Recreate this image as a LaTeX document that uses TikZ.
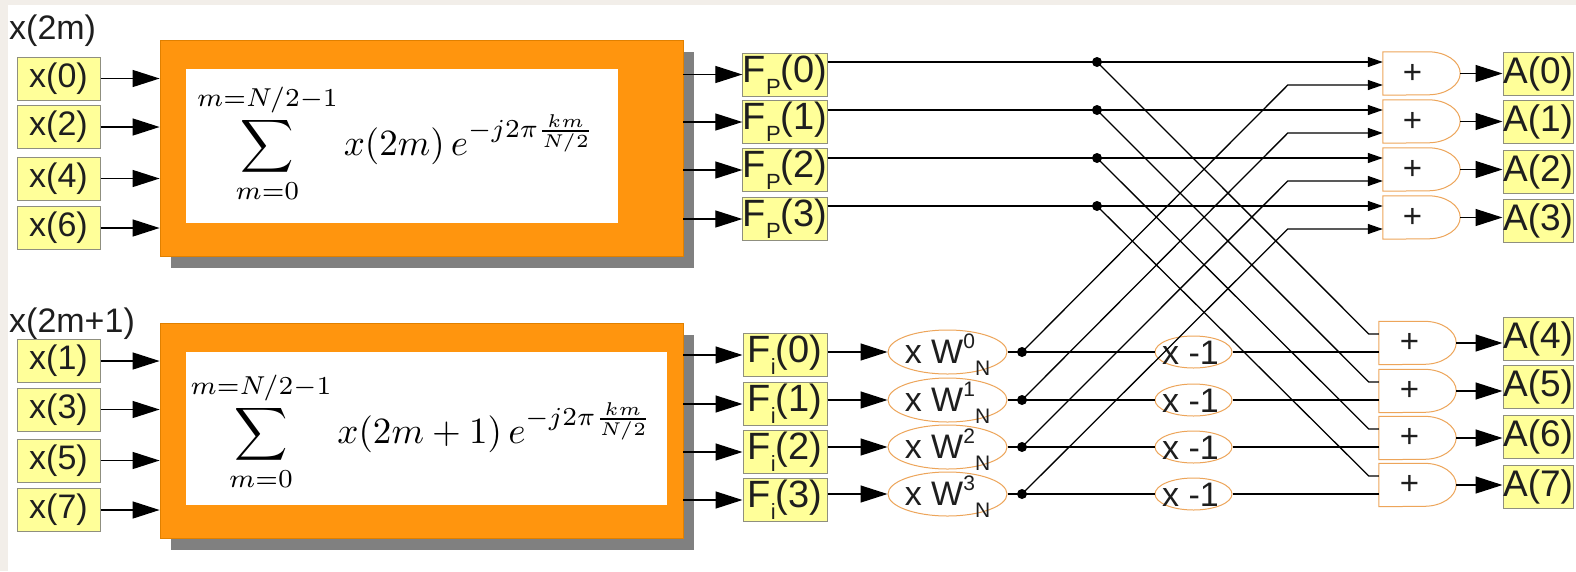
\documentclass[tikz,border=0pt]{standalone}
\usepackage{graphicx}
\usepackage[no-math]{fontspec}
\setmainfont{Liberation Sans}
\usetikzlibrary{arrows.meta,shapes.geometric,calc}
\definecolor{bgbeige}{HTML}{F2EEE9}
\definecolor{boxfill}{HTML}{FFFF99}
\definecolor{boxline}{HTML}{8F8F7F}
\definecolor{orng}{HTML}{FF950E}
\definecolor{orngline}{HTML}{E08000}
\definecolor{shadowgray}{HTML}{808080}
\definecolor{ellline}{HTML}{EDA55A}
\definecolor{txt}{HTML}{1E1E1E}
\newcommand{\fs}[1]{\fontsize{#1}{#1}\selectfont}
\begin{document}
\begin{tikzpicture}[x=1pt,y=-1pt,
  conn/.style={line width=1.3pt, draw=black},
  bigarrow/.style={conn, -{Triangle[length=27pt,width=17pt]}},
  smallarrow/.style={conn, -{Triangle[length=15pt,width=10pt]}},
  ybox/.style={draw=boxline, fill=boxfill, line width=1pt, inner sep=0pt, minimum height=43pt, text=txt},
  xin/.style={ybox, minimum width=83pt, font={\fs{34}}},
  fout/.style={ybox, minimum width=84pt, font={\fs{38}}},
  aout/.style={ybox, minimum width=70pt, font={\fs{37}}},
  orangebox/.style={fill=orng, draw=orngline, line width=0.8pt, minimum width=523pt, minimum height=216pt, inner sep=0pt},
  shadowbox/.style={fill=shadowgray, minimum width=523pt, minimum height=216pt, inner sep=0pt},
  innerbox/.style={fill=white, inner sep=0pt, minimum height=154pt},
  formula/.style={inner sep=0pt, font={\fontsize{10}{12}\selectfont}},
  wnode/.style={ellipse, draw=ellline, line width=1pt, minimum width=119pt, minimum height=44pt, inner sep=0pt},
  mnode/.style={ellipse, draw=ellline, line width=1pt, minimum width=77pt, minimum height=32pt, inner sep=0pt},
  adder/.style={inner sep=0pt, minimum width=77pt, minimum height=43pt, font={\fs{33}}, text=txt},
  adderline/.style={draw=ellline, line width=1pt},
  dotn/.style={circle, fill=black, inner sep=0pt, minimum size=10pt},
  lbl/.style={inner sep=0pt, text=txt, font={\fs{34}}},
]
% background
\fill[bgbeige] (0,0) rectangle (1576,571);
\fill[white] (8,5) rectangle (1576,571);
\useasboundingbox (0,0) rectangle (1576,571);

% group labels
\node[lbl, anchor=base west] (lt) at (9,39) {x(2m)};
\node[lbl, anchor=base west] (lb) at (9,332) {x(2m+1)};

% input boxes
\foreach \i/\t/\y in {0/0/78.5, 1/2/127, 2/4/178.5, 3/6/228}
  \node[xin] (xt\i) at (58.5,\y) {x(\t)};
\foreach \i/\t/\y in {0/1/361, 1/3/409.5, 2/5/460.5, 3/7/510}
  \node[xin] (xb\i) at (58.5,\y) {x(\t)};

% top DFT block
\node[shadowbox] (tsh) at (432.5,160) {};
\node[orangebox] (tbox) at (421.5,148) {};
\node[innerbox, minimum width=432pt] (tin) at (402,146) {};
\node[formula] (tf) at (396,143) {\scalebox{3.7}{$\displaystyle\sum_{m=0}^{m=N/2-1} x(2m)\,e^{-j2\pi\frac{km}{N/2}}$}};

% bottom DFT block
\node[shadowbox, minimum height=215pt] (bsh) at (432.5,442.5) {};
\node[orangebox, minimum height=215pt] (bbox) at (421.5,430.5) {};
\node[innerbox, minimum width=481pt, minimum height=153pt] (bin) at (426.5,428.5) {};
\node[formula] (bf) at (421.5,431) {\scalebox{3.7}{$\displaystyle\sum_{m=0}^{m=N/2-1} x(2m+1)\,e^{-j2\pi\frac{km}{N/2}}$}};

\foreach \i in {0,...,3} {
  \draw[bigarrow] (xt\i.east) -- (xt\i.east -| tbox.west);
  \draw[bigarrow] (xb\i.east) -- (xb\i.east -| bbox.west);
}

% F_P and F_i
\foreach \i/\y in {0/74.5,1/122,2/170,3/219} {
  \node[fout] (fp\i) at (785,\y) {F\raisebox{-12pt}{\fs{22}P}(\i)};
  \draw[bigarrow] (tbox.east |- fp\i) -- (fp\i.west);
}
\foreach \i/\y in {0/355,1/404,2/452,3/500} {
  \node[fout] (fi\i) at (785,\y) {F\raisebox{-12pt}{\fs{22}i}(\i)};
  \draw[bigarrow] (bbox.east |- fi\i) -- (fi\i.west);
}

% twiddle ellipses, dots, x -1
\foreach \i/\r in {0/352,1/400,2/447,3/494} {
  \node[wnode] (w\i) at (947.5,\r) {};
  \node[lbl, anchor=base] (wt\i) at ([yshift=-11pt]w\i.center) {x W\raisebox{15pt}{\fs{21}\i}\raisebox{-12pt}{\fs{21}N}};
  \node[mnode] (m\i) at (1193.5,\r) {};
  \node[lbl, anchor=base] (mt\i) at ([yshift=-12pt,xshift=-3pt]m\i.center) {x -1};
  \coordinate (e\i) at (1022,\r);
  \draw[bigarrow] (fi\i.east |- w\i) -- (w\i.west);
}

% top dots
\foreach \i/\y in {0/62,1/110,2/158,3/206}
  \coordinate (d\i) at (1097,\y);

% adders
\foreach \i/\y in {0/73.5,1/121.5,2/169.5,3/217.5}
  \node[adder] (s\i) at (1421.5,\y) {\makebox[0pt]{\hspace*{-18pt}+}};
\foreach \i/\y in {4/343,5/391,6/438,7/485}
  \node[adder] (s\i) at (1417.5,\y) {\makebox[0pt]{\hspace*{-16pt}+}};
\foreach \n in {0,...,7}
  \draw[adderline] (s\n.north west) -- ([xshift=-32pt]s\n.north east)
     arc[start angle=90, end angle=-90, x radius=32pt, y radius=21.5pt]
     -- (s\n.south west) -- cycle;

% outputs
\foreach \i/\y in {0/74,1/122,2/172,3/221,4/339,5/387,6/437,7/487} {
  \node[aout] (a\i) at (1538,\y) {A(\i)};
  \draw[bigarrow] (s\i.east) -- (s\i.east -| a\i.west);
}

% butterfly connections
\foreach \i/\j in {0/4,1/5,2/6,3/7} {
  \draw[conn] (fp\i.east |- d\i) -- (d\i);
  \draw[smallarrow] (d\i) -- (d\i -| s\i.west);
  \draw[conn] (d\i) -- ([shift={(-10pt,9pt)}]s\j.west) -- ([yshift=9pt]s\j.west);
  \draw[conn] (w\i.east) -- (e\i) -- (m\i.west);
  \draw[smallarrow] (e\i) -- ([shift={(-95pt,-11.5pt)}]s\i.west) -- ([yshift=-11.5pt]s\i.west);
  \draw[conn] (m\i.east) -- (m\i.east -| s\j.west);
  \node[dotn] (dd\i) at (d\i) {};
  \node[dotn] (ed\i) at (e\i) {};
}
\end{tikzpicture}
\end{document}
